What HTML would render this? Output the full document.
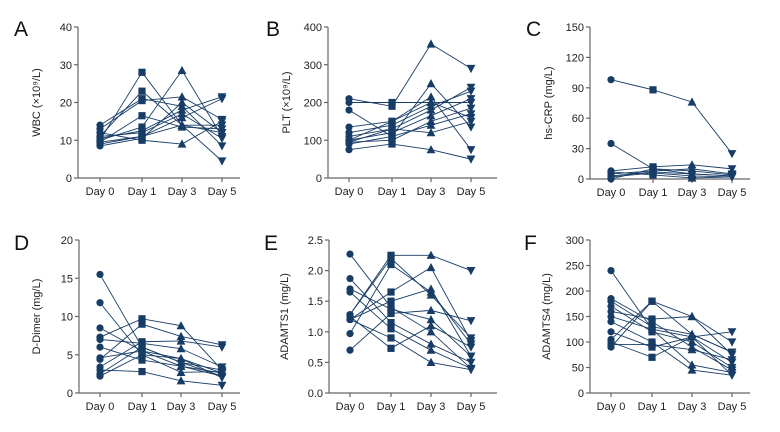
<!DOCTYPE html>
<html><head><meta charset="utf-8"><style>
html,body{margin:0;padding:0;background:#fff;}
svg{display:block;font-family:"Liberation Sans",sans-serif;}
</style></head><body>
<svg id="fig" width="780" height="432" viewBox="0 0 780 432"></svg>
<script>
const days = ["Day 0","Day 1","Day 3","Day 5"];
const wbcTicks = [0,10,20,30,40];
const wbcData = [[10,28,14,12],[11,23,14,4.5],[14,21,19,8.5],[13,20.5,21.5,15.5],[9.5,16.5,13.5,13],[10,13.5,28.5,11],[10.5,12.5,18,21.5],[9,11,16,21],[12,10,9,15],[8.5,10.5,20,12],[11,12,17,10.5],[9.5,11,14,14]];
const pltTicks = [0,100,200,300,400];
const pltData = [[210,190,355,290],[200,200,200,200],[180,110,250,135],[135,150,215,75],[120,140,190,230],[110,130,180,240],[100,120,165,210],[95,100,150,185],[90,110,140,170],[75,90,75,50],[100,150,200,160],[95,130,120,150]];
const crpTicks = [0,30,60,90,120,150];
const crpData = [[98,88,76,25],[35,10,5,3],[8,12,14,10],[5,8,10,5],[2,6,3,2],[0,10,8,4],[7,4,1,2],[3,7,5,3]];
const ddTicks = [0,5,10,15,20];
const ddData = [[15.5,6,4,2.2],[11.8,5,4.5,2.6],[8.5,5.5,3.5,2.2],[7.3,9.7,8.8,3],[7,6.5,5.8,3.4],[6,4.3,3.5,2.6],[4.6,5.5,4.5,2],[4.4,9,7.4,6.3],[3.4,6.7,6.8,6],[3,2.8,1.6,1],[2.5,6,4,3],[2.2,5,2.7,2.8]];
const a1Ticks = [0,0.5,1,1.5,2,2.5];
const a1Labels = ["0.0","0.5","1.0","1.5","2.0","2.5"];
const a1Data = [[2.27,1.4,1.0,0.4],[1.87,1.15,0.8,0.5],[1.7,1.37,1.2,0.6],[1.65,1.05,0.7,0.4],[1.28,2.2,1.6,0.9],[1.28,2.25,2.25,2.0],[1.2,0.9,0.5,0.38],[1.2,1.5,1.7,0.6],[0.97,2.1,1.65,0.8],[0.7,1.3,1.35,1.18],[1.25,0.73,1.1,0.75],[1.2,1.65,2.05,0.85]];
const a4Ticks = [0,50,100,150,200,250,300];
const a4Data = [[240,125,110,60],[185,140,90,45],[180,130,115,80],[170,120,100,50],[160,145,150,75],[150,125,55,40],[140,100,45,35],[120,90,110,120],[105,180,150,100],[95,95,85,65],[90,180,115,80],[100,70,110,35]];

const panels = [
 {id:"a",letter:"A",lx:14,ly:36,ax:78,top:27,bot:178,xs:[100,142,182,222],xe:240,ticks:wbcTicks,labels:null,data:wbcData,title:"WBC (×10⁹/L)",tx:40},
 {id:"b",letter:"B",lx:266,ly:36,ax:328,top:27,bot:178,xs:[349,392,431,471],xe:497,ticks:pltTicks,labels:null,data:pltData,title:"PLT (×10⁹/L)",tx:290},
 {id:"c",letter:"C",lx:526,ly:36,ax:590,top:27,bot:179,xs:[611,653,692,732],xe:750,ticks:crpTicks,labels:null,data:crpData,title:"hs-CRP (mg/L)",tx:552},
 {id:"d",letter:"D",lx:14,ly:250,ax:79,top:240,bot:393,xs:[100,142,181,222],xe:240,ticks:ddTicks,labels:null,data:ddData,title:"D-Dimer (mg/L)",tx:40},
 {id:"e",letter:"E",lx:264,ly:250,ax:329,top:240,bot:393,xs:[350,391,431,471],xe:497,ticks:a1Ticks,labels:a1Labels,data:a1Data,title:"ADAMTS1 (mg/L)",tx:288},
 {id:"f",letter:"F",lx:524,ly:250,ax:590,top:240,bot:393,xs:[611,652,692,732],xe:750,ticks:a4Ticks,labels:null,data:a4Data,title:"ADAMTS4 (mg/L)",tx:550}
];
const NS="http://www.w3.org/2000/svg";
const svg=document.getElementById("fig");
const C="#173c66", AX="#666";
function mk(tag,attrs,parent){const e=document.createElementNS(NS,tag);for(const k in attrs)e.setAttribute(k,attrs[k]);parent.appendChild(e);return e;}
function marker(g,shape,x,y){
  const s=3.6;let e;
  if(shape===0){e=mk("circle",{cx:x,cy:y,r:s,fill:C},g);}
  else if(shape===1){e=mk("rect",{x:x-s,y:y-s,width:2*s,height:2*s,fill:C},g);}
  else if(shape===2){e=mk("polygon",{points:`${x},${y-s-1} ${x-s-0.8},${y+s} ${x+s+0.8},${y+s}`,fill:C},g);}
  else {e=mk("polygon",{points:`${x},${y+s+1} ${x-s-0.8},${y-s} ${x+s+0.8},${y-s}`,fill:C},g);}
  
  
}
panels.forEach(p=>{
  const g=mk("g",{},svg);
  
  
  const maxT=p.ticks[p.ticks.length-1];
  const yS=v=>p.bot-(v/maxT)*(p.bot-p.top);
  const L=mk("text",{x:p.lx,y:p.ly,"font-size":21,fill:"#111"},g);L.textContent=p.letter;
  
  
  const ya=mk("line",{x1:p.ax,y1:p.top,x2:p.ax,y2:p.bot,stroke:AX,"stroke-width":1.2},g);
  
  
  const xa=mk("line",{x1:p.ax,y1:p.bot,x2:p.xe,y2:p.bot,stroke:AX,"stroke-width":1.2},g);
  
  
  p.ticks.forEach((t,i)=>{
    const y=yS(t);
    mk("line",{x1:p.ax-4,y1:y,x2:p.ax,y2:y,stroke:AX,"stroke-width":1.2},g);
    const tl=mk("text",{x:p.ax-6,y:y+4,"font-size":11,"text-anchor":"end",fill:"#222"},g);
    tl.textContent=p.labels?p.labels[i]:String(t);
    
    
  });
  days.forEach((d,i)=>{
    mk("line",{x1:p.xs[i],y1:p.bot,x2:p.xs[i],y2:p.bot+4,stroke:AX,"stroke-width":1.2},g);
    const xl=mk("text",{x:p.xs[i],y:p.bot+17,"font-size":11,"text-anchor":"middle",fill:"#222"},g);
    xl.textContent=d;
    
    
  });
  const my=(p.top+p.bot)/2;
  const yt=mk("text",{x:p.tx,y:my,"font-size":11,"text-anchor":"middle",fill:"#222",transform:`rotate(-90 ${p.tx} ${my})`},g);
  yt.textContent=p.title;
  
  
  p.data.forEach(row=>{
    const pts=row.map((v,i)=>`${p.xs[i]},${yS(v)}`).join(" ");
    const pl=mk("polyline",{points:pts,fill:"none",stroke:C,"stroke-width":0.9},g);
    
    
  });
  p.data.forEach(row=>{row.forEach((v,i)=>marker(g,i,p.xs[i],yS(v)));});
});
</script>
</body></html>
